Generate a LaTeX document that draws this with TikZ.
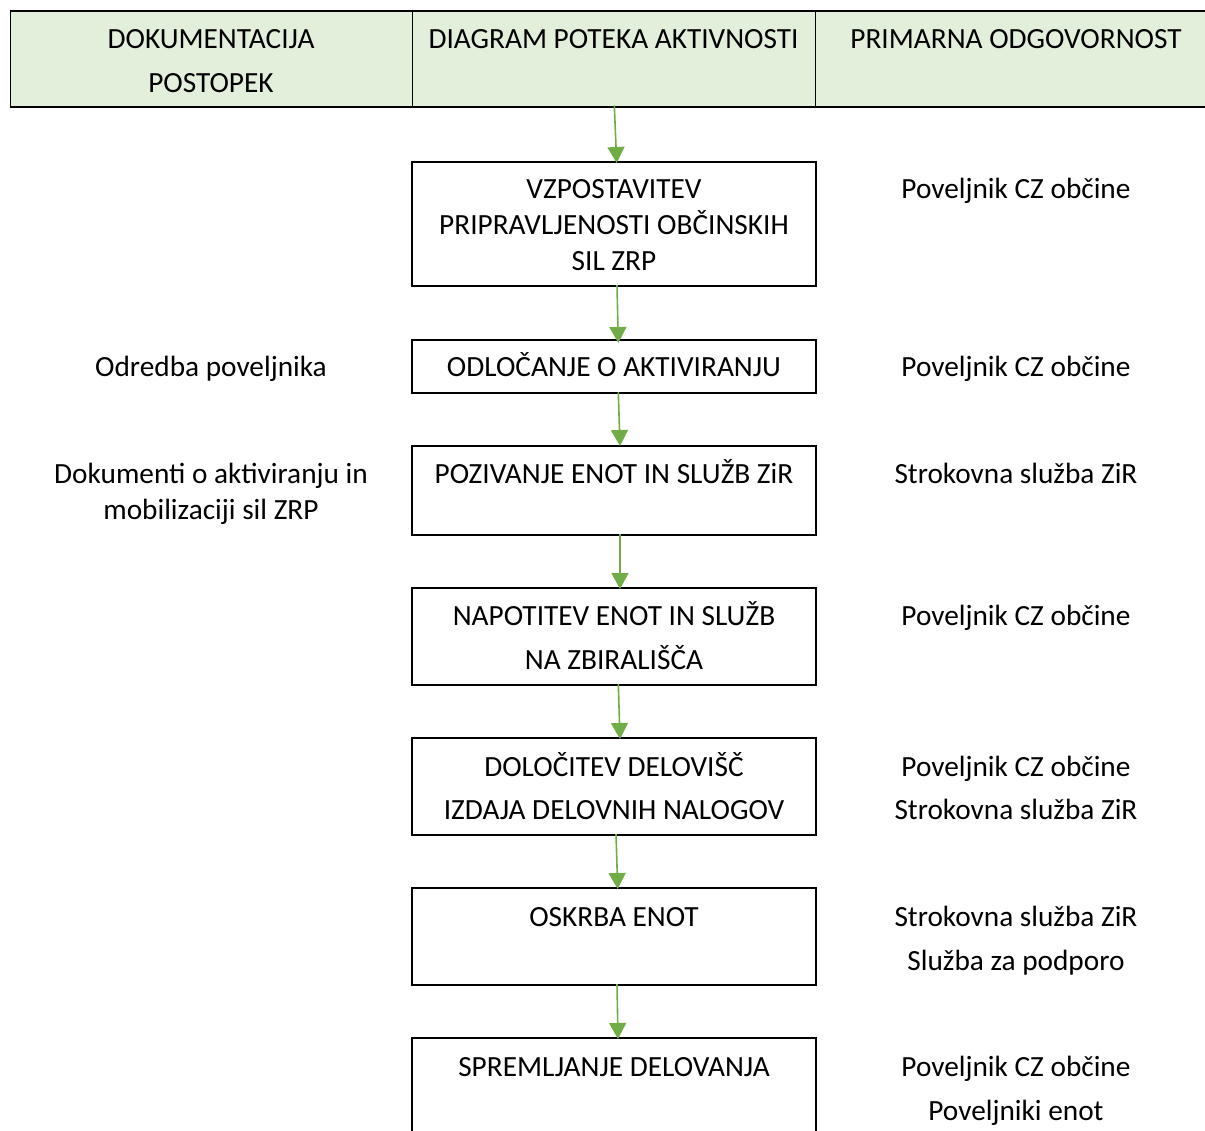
\documentclass[tikz,border=0pt]{standalone}
\usepackage{fontspec}
\setmainfont{Carlito}
\usetikzlibrary{arrows.meta}
\definecolor{headgreen}{HTML}{E2EFDA}
\definecolor{flowgreen}{HTML}{70AD47}
\begin{document}
\begin{tikzpicture}[x=1pt,y=-1pt,
  hcell/.style={draw=black, line width=1pt, fill=headgreen, rectangle, inner sep=0pt, outer sep=0pt, anchor=north west},
  stepbox/.style={draw=black, line width=1.1pt, rectangle, inner sep=0pt, outer sep=0pt, anchor=north west, minimum width=404pt},
  txt/.style={font=\fontsize{29.3}{36}\selectfont, anchor=base, inner sep=0pt, outer sep=0pt},
  flow/.style={draw=flowgreen, line width=1.6pt, -{Triangle[width=17pt,length=16pt]}},
  thickedge/.style={line width=2.1pt}
]
\useasboundingbox (0,0) rectangle (1205,1131);

% header row
\node[hcell, minimum width=402pt, minimum height=96pt] (h1) at (10,11) {};
\node[hcell, minimum width=403pt, minimum height=96pt] (h2) at (412,11) {};
\node[hcell, minimum width=430pt, minimum height=96pt] (h3) at (815,11) {};
\draw[line width=2pt] (h1.north west) -- (h3.north east);
\draw[line width=2.6pt] (h1.south west) -- (h3.south east);

\node[txt] (t1a) at (211,49) {DOKUMENTACIJA};
\node[txt] (t1b) at (211,93) {POSTOPEK};
\node[txt] (t2) at (613.5,49) {DIAGRAM POTEKA AKTIVNOSTI};
\node[txt] (t3) at (1016,49) {PRIMARNA ODGOVORNOST};

% activity boxes
\node[stepbox, minimum height=124pt] (b1) at (412,162) {};
\node[stepbox, minimum height=53pt] (b2) at (412,340) {};
\node[stepbox, minimum height=89pt] (b3) at (412,446) {};
\node[stepbox, minimum height=97pt] (b4) at (412,588) {};
\node[stepbox, minimum height=97pt] (b5) at (412,738) {};
\node[stepbox, minimum height=97pt] (b6) at (412,888) {};
\node[stepbox, minimum height=130pt] (b7) at (412,1038) {};
\foreach \b in {b1,b2,b3,b4,b5,b6,b7}{
  \draw[thickedge] (\b.north west) -- (\b.north east);
  \draw[thickedge] (\b.south west) -- (\b.south east);
}

% box texts
\node[txt] (b1a) at (614,199) {VZPOSTAVITEV};
\node[txt] (b1b) at (614,235) {PRIPRAVLJENOSTI OBČINSKIH};
\node[txt] (b1c) at (614,271) {SIL ZRP};
\node[txt] (b2a) at (614,377) {ODLOČANJE O AKTIVIRANJU};
\node[txt] (b3a) at (614,483) {POZIVANJE ENOT IN SLUŽB ZiR};
\node[txt] (b4a) at (614,625) {NAPOTITEV ENOT IN SLUŽB};
\node[txt] (b4b) at (614,669) {NA ZBIRALIŠČA};
\node[txt] (b5a) at (614,776) {DOLOČITEV DELOVIŠČ};
\node[txt] (b5b) at (614,819) {IZDAJA DELOVNIH NALOGOV};
\node[txt] (b6a) at (614,926) {OSKRBA ENOT};
\node[txt] (b7a) at (614,1076) {SPREMLJANJE DELOVANJA};

% documentation column
\node[txt] (d2) at (211,377) {Odredba poveljnika};
\node[txt] (d3a) at (211,483) {Dokumenti o aktiviranju in};
\node[txt] (d3b) at (211,519) {mobilizaciji sil ZRP};

% responsibility column
\node[txt] (r1) at (1016,199) {Poveljnik CZ občine};
\node[txt] (r2) at (1016,377) {Poveljnik CZ občine};
\node[txt] (r3) at (1016,483) {Strokovna služba ZiR};
\node[txt] (r4) at (1016,625) {Poveljnik CZ občine};
\node[txt] (r5a) at (1016,776) {Poveljnik CZ občine};
\node[txt] (r5b) at (1016,819) {Strokovna služba ZiR};
\node[txt] (r6a) at (1016,926) {Strokovna služba ZiR};
\node[txt] (r6b) at (1016,970) {Služba za podporo};
\node[txt] (r7a) at (1016,1076) {Poveljnik CZ občine};
\node[txt] (r7b) at (1016,1120) {Poveljniki enot};

% flow arrows
\draw[flow] ([xshift=0.8pt,yshift=1.5pt]h2.south) -- ([xshift=2.7pt,yshift=-1pt]b1.north);
\draw[flow] ([xshift=3pt,yshift=1pt]b1.south) -- ([xshift=4.3pt,yshift=-3pt]b2.north);
\draw[flow] ([xshift=4.3pt,yshift=1pt]b2.south) -- ([xshift=6pt]b3.north);
\draw[flow] ([xshift=6pt,yshift=1pt]b3.south) -- ([xshift=6pt,yshift=-1pt]b4.north);
\draw[flow] ([xshift=4.3pt,yshift=1pt]b4.south) -- ([xshift=6pt,yshift=-1pt]b5.north);
\draw[flow] ([xshift=2pt,yshift=1pt]b5.south) -- ([xshift=3.7pt,yshift=-1pt]b6.north);
\draw[flow] ([xshift=3pt,yshift=1pt]b6.south) -- ([xshift=4pt,yshift=-1pt]b7.north);
\end{tikzpicture}
\end{document}
